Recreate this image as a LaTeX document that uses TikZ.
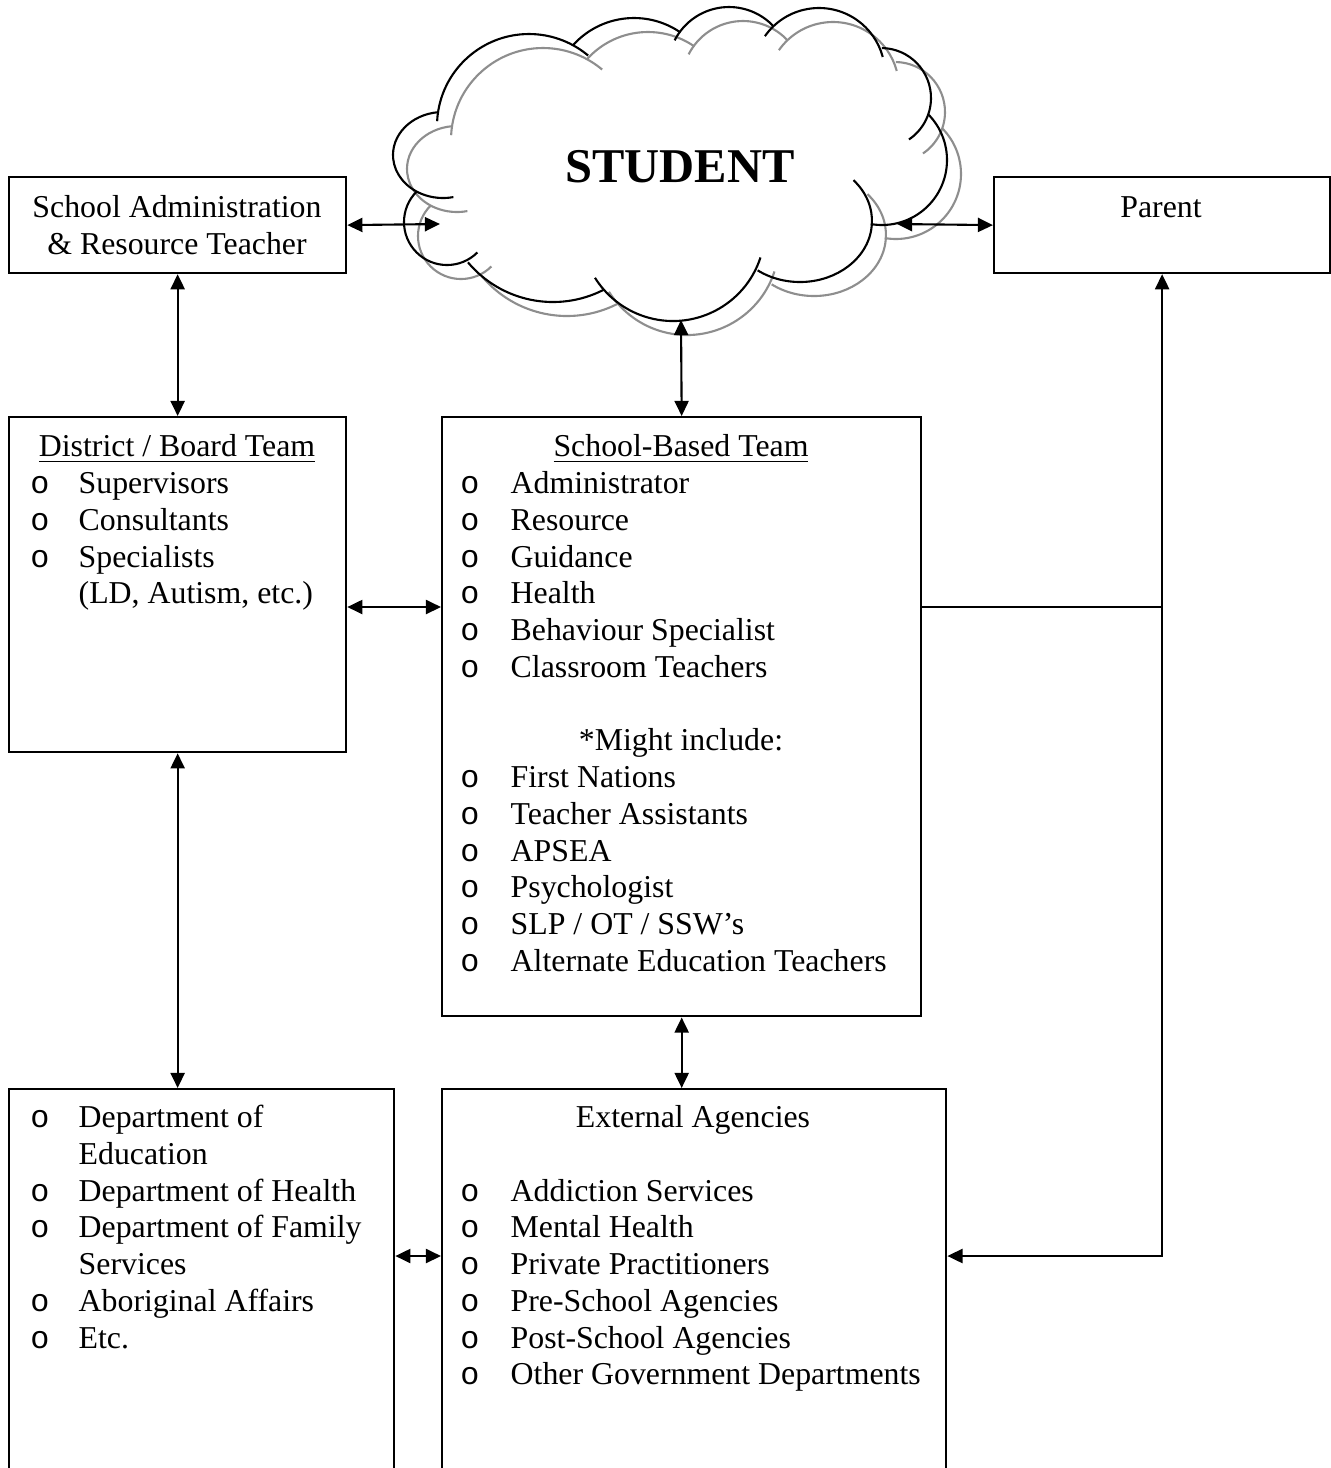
\documentclass[tikz,border=0pt]{standalone}
\usepackage{fontspec}
\setmainfont{Liberation Serif}
\newfontfamily\bulletfont{Liberation Mono}
\usepackage{tikz}
\usetikzlibrary{arrows.meta}
\definecolor{shadowgray}{HTML}{8E8E8E}
\newcommand{\titleul}[1]{\underline{\smash{#1}}}

\begin{document}
\begin{tikzpicture}[x=0.01cm, y=-0.01cm,
    box/.style={draw, rectangle, line width=0.6pt, inner sep=0pt, anchor=north west},
    conn/.style={line width=0.6pt, {Triangle[length=4.3pt,width=4pt]}-{Triangle[length=4.3pt,width=4pt]}},
    wire/.style={line width=0.6pt},
    puff/.style={line width=0.6pt},
    txt/.style={inner sep=0pt, font=\fontsize{9.05}{10.46}\selectfont},
    bullet/.style={inner sep=0pt, anchor=base, font=\bulletfont\fontsize{9.05}{10.46}\selectfont}]
  \useasboundingbox (0,0) rectangle (1331,1468);
  \clip (0,0) rectangle (1331,1468);

  % Student cloud: grey shadow first, then black outline
  \foreach \dx/\col in {14/shadowgray, 0/black} {
    \foreach \cx/\cy/\rx/\ry/\sa/\ea in {443/155/50/43/265/78, 529/126/92/92/183/310,
        634/100/82/82/222/304, 729/68/61/61/207/316, 819/74/66/66/215/345,
        881/98/50/50/271/416, 882/160/65/65/316/460, 800/221/72/61/318/486,
        673/229/92/92/18/148, 553/191/111/111/63/140, 447/222/43/43/225/45} {
      \draw[puff, draw=\col] ({\cx+\dx+\rx*cos(\sa)}, {\cy+\dx+\ry*sin(\sa)})
        arc[start angle=\sa, end angle=\ea, x radius=\rx, y radius=\ry];
    }
  }
  \node[inner sep=0pt, anchor=base, font=\bfseries\fontsize{13.8}{16}\selectfont] (student) at (680,182.5) {STUDENT};
  \coordinate (cloudW) at (440,224);
  \coordinate (cloudE) at (897,224);
  \coordinate (cloudS) at (681,320);

  % Boxes
  \node[box, minimum width=3.37cm, minimum height=0.96cm] (admin) at (8,176) {};
  \node[box, minimum width=3.36cm, minimum height=0.96cm] (parent) at (993,176) {};
  \node[box, minimum width=3.37cm, minimum height=3.35cm] (district) at (8,416) {};
  \node[box, minimum width=4.79cm, minimum height=5.99cm] (sbt) at (441,416) {};
  \node[box, minimum width=3.85cm, minimum height=4.4cm] (depts) at (8,1088) {};
  \node[box, minimum width=5.04cm, minimum height=4.4cm] (agencies) at (441,1088) {};

  % Top row text
  \node[txt, anchor=base] (adminL1) at (177,217.5) {School Administration};
  \node[txt, anchor=base] (adminL2) at (177,254) {\& Resource Teacher};
  \node[txt, anchor=base] (parentL) at (1161,217.5) {Parent};

  % District / Board Team
  \node[txt, anchor=base] (districtT) at (177,456.7) {\titleul{District / Board Team}};
  \foreach \k/\t in {1/Supervisors, 2/Consultants, 3/Specialists} {
    \node[bullet] (districtB\k) at (40,{456.7+36.77*\k}) {o};
    \node[txt, anchor=base west] (districtI\k) at (78,{456.7+36.77*\k}) {\t};
  }
  \node[txt, anchor=base west] (districtI4) at (78,{456.7+36.77*4}) {(LD, Autism, etc.)};

  % School-Based Team
  \node[txt, anchor=base] (sbtT) at (681,456.7) {\titleul{School-Based Team}};
  \foreach \k/\t in {1/Administrator, 2/Resource, 3/Guidance, 4/Health, 5/Behaviour Specialist,
      6/Classroom Teachers, 9/First Nations, 10/Teacher Assistants, 11/APSEA, 12/Psychologist,
      13/{SLP / OT / SSW’s}, 14/Alternate Education Teachers} {
    \node[bullet] (sbtB\k) at (470,{456.7+36.77*\k}) {o};
    \node[txt, anchor=base west] (sbtI\k) at (510,{456.7+36.77*\k}) {\t};
  }
  \node[txt, anchor=base] (sbtMight) at (681,{456.7+36.77*8}) {*Might include:};

  % Government departments
  \foreach \k/\t in {0/Department of, 2/Department of Health, 3/Department of Family,
      5/Aboriginal Affairs, 6/Etc.} {
    \node[bullet] (deptsB\k) at (40,{1127.5+36.77*\k}) {o};
    \node[txt, anchor=base west] (deptsI\k) at (78,{1127.5+36.77*\k}) {\t};
  }
  \node[txt, anchor=base west] (deptsI1) at (78,{1127.5+36.77*1}) {Education};
  \node[txt, anchor=base west] (deptsI4) at (78,{1127.5+36.77*4}) {Services};

  % External Agencies
  \node[txt, anchor=base] (agenciesT) at (693,1127.5) {External Agencies};
  \foreach \k/\t in {2/Addiction Services, 3/Mental Health, 4/Private Practitioners,
      5/Pre-School Agencies, 6/Post-School Agencies, 7/Other Government Departments} {
    \node[bullet] (agenciesB\k) at (470,{1127.5+36.77*\k}) {o};
    \node[txt, anchor=base west] (agenciesI\k) at (510,{1127.5+36.77*\k}) {\t};
  }

  % Connections
  \coordinate (rowMid) at (0,607);
  \coordinate (rowLow) at (0,1256);
  \draw[conn] (admin.east) -- (cloudW);
  \draw[conn] (cloudE) -- (parent.west);
  \draw[conn] (admin.south) -- (district.north);
  \draw[conn] (cloudS) -- (sbt.north);
  \draw[conn] (district.east |- rowMid) -- (sbt.west |- rowMid);
  \draw[conn] (district.south) -- (depts.north -| district.south);
  \draw[conn] (sbt.south) -- (agencies.north -| sbt.south);
  \draw[conn] (depts.east |- rowLow) -- (agencies.west |- rowLow);
  \draw[conn] (parent.south) -- (parent.south |- rowLow) -- (agencies.east |- rowLow);
  \draw[wire] (sbt.east |- rowMid) -- (parent.south |- rowMid);
\end{tikzpicture}
\end{document}
